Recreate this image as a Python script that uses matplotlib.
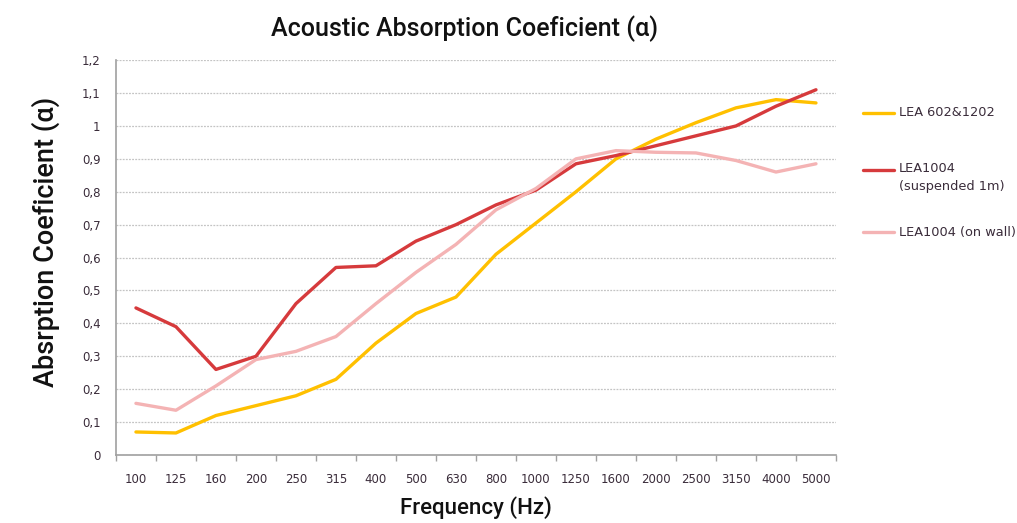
import numpy as np
import matplotlib.pyplot as plt
from matplotlib.lines import Line2D
from matplotlib.ticker import FixedLocator

# frequency bands (1/3 octave)
freqs = ['100', '125', '160', '200', '250', '315', '400', '500', '630',
         '800', '1000', '1250', '1600', '2000', '2500', '3150', '4000', '5000']

lea602 = [0.07, 0.067, 0.12, 0.15, 0.18, 0.23, 0.34, 0.43, 0.48,
          0.61, 0.705, 0.80, 0.90, 0.96, 1.01, 1.055, 1.08, 1.07]
lea1004_susp = [0.447, 0.39, 0.26, 0.30, 0.46, 0.57, 0.575, 0.65, 0.70,
                0.76, 0.805, 0.885, 0.91, 0.94, 0.97, 1.0, 1.06, 1.11]
lea1004_wall = [0.157, 0.136, 0.21, 0.29, 0.315, 0.36, 0.46, 0.555, 0.64,
                0.745, 0.81, 0.90, 0.925, 0.92, 0.918, 0.895, 0.86, 0.885]

labels = ['LEA 602&1202', 'LEA1004\n(suspended 1m)', 'LEA1004 (on wall)']
colors = ['#FFC000', '#D63A3C', '#F4B3B4']

yticks = [0, 0.1, 0.2, 0.3, 0.4, 0.5, 0.6, 0.7, 0.8, 0.9, 1.0, 1.1, 1.2]
ytick_labels = ['0', '0,1', '0,2', '0,3', '0,4', '0,5', '0,6', '0,7',
                '0,8', '0,9', '1', '1,1', '1,2']

txt = '#3a2c3a'

fig = plt.figure(figsize=(10.17, 5.23), dpi=100)
ax = fig.add_axes([0.114, 0.13, 0.708, 0.755])

x = np.arange(len(freqs))
for vals, lab, c in zip([lea602, lea1004_susp, lea1004_wall], labels, colors):
    ax.plot(x, vals, color=c, lw=2.4, label=lab, solid_joinstyle='round',
            solid_capstyle='round')

ax.set_xlim(-0.5, len(freqs) - 0.5)
ax.set_ylim(0, 1.2)
ax.set_xticks(x)
ax.set_xticklabels(freqs, fontsize=8.5, color=txt)
ax.tick_params(axis='x', which='major', length=0, pad=13)
ax.xaxis.set_minor_locator(FixedLocator(np.arange(-0.5, len(freqs), 1)))
ax.tick_params(axis='x', which='minor', length=4, color='#a0a0a0', width=1)
ax.set_yticks(yticks)
ax.set_yticklabels(ytick_labels, fontsize=8.5, color=txt)
ax.tick_params(axis='y', length=0, pad=11)

ax.grid(axis='y', color='#c4c4c4', linestyle=(0, (1.5, 1)), linewidth=0.9)
ax.set_axisbelow(True)
for s in ['top', 'right']:
    ax.spines[s].set_visible(False)
for s in ['left', 'bottom']:
    ax.spines[s].set_color('#a0a0a0')
    ax.spines[s].set_linewidth(1.2)

ax.set_title('Acoustic Absorption Coeficient (α)', fontsize=18, x=0.484,
             family='Roboto', fontweight='medium', pad=17, color='#111111')
ax.set_xlabel('Frequency (Hz)', fontsize=16, family='Roboto',
              fontweight='medium', labelpad=7, color='#111111')
ax.set_ylabel('Absrption Coeficient (α)', fontsize=19.5, family='Roboto',
              fontweight='medium', color='#111111')
ax.yaxis.set_label_coords(-0.077, 0.54)

# legend at the right, drawn row by row
leg_y = [0.784, 0.675, 0.556]
for lab, c, yy in zip(labels, colors, leg_y):
    fig.add_artist(Line2D([0.849, 0.879], [yy, yy], transform=fig.transFigure,
                          color=c, lw=2.4, solid_capstyle='round'))
    if '\n' in lab:
        fig.text(0.884, yy + 0.016, lab, fontsize=9.3, color=txt,
                 va='top', ha='left', linespacing=1.55)
    else:
        fig.text(0.884, yy, lab, fontsize=9.3, color=txt,
                 va='center', ha='left')

fig.savefig('out.png', dpi=100)
